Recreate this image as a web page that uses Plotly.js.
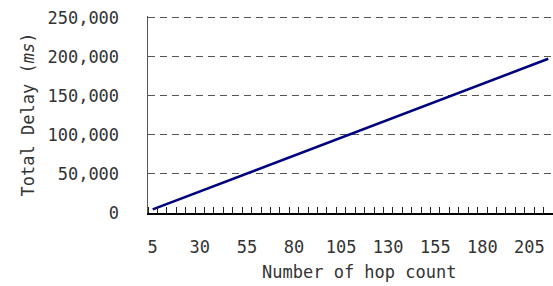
<!DOCTYPE html>
<html>
<head>
<meta charset="utf-8">
<script src="https://cdn.plot.ly/plotly-3.0.1.min.js"></script>
<style>html,body{margin:0;padding:0;background:#fff;}#chart{width:553px;height:286px;}</style>
</head>
<body>
<div id="chart"></div>
<script>
const hops = [5,10,15,20,25,30,35,40,45,50,55,60,65,70,75,80,85,90,95,100,105,110,115,120,125,130,135,140,145,150,155,160,165,170,175,180,185,190,195,200,205,210,215];
const delays = [4600,9200,13800,18400,22950,27550,32150,36700,41300,45900,50500,55100,59650,64250,68850,73450,78000,82600,87200,91800,96400,100950,105550,110150,114750,119300,123900,128500,133100,137700,142300,146850,151450,156050,160650,165200,169800,174400,179000,183600,188200,192800,197350];
const xTickLabels = [5,30,55,80,105,130,155,180,205];
const yTicks = [0,50000,100000,150000,200000,250000];

const half = (hops[1]-hops[0])/2;
const boundaries = hops.map(h => h - half).concat([hops[hops.length-1] + half]);
const font = {family: '"DejaVu Sans Mono", "Liberation Mono", monospace', size: 17, color: '#333'};

Plotly.newPlot('chart', [{
  x: hops, y: delays, type: 'scatter', mode: 'lines',
  line: {color: '#00007f', width: 2.6}, hoverinfo: 'none'
}], {
  width: 553, height: 286,
  margin: {l: 148, r: 0, t: 16, b: 73, pad: 0},
  paper_bgcolor: '#fff', plot_bgcolor: '#fff',
  font: font,
  showlegend: false,
  xaxis: {
    range: [boundaries[0], boundaries[boundaries.length-1]],
    tickmode: 'array', tickvals: xTickLabels, ticktext: xTickLabels.map(String),
    ticks: '', showgrid: false, zeroline: false,
    showline: true, linecolor: '#000', linewidth: 1.5,
    ticklabelstandoff: 18,
    tickfont: font,
    minor: {tickmode: 'array', tickvals: boundaries, ticks: 'inside', ticklen: 6, tickwidth: 1, tickcolor: '#222', showgrid: false}
  },
  yaxis: {
    range: [0, 252000],
    tickmode: 'array', tickvals: yTicks, tickformat: ',',
    ticks: '', zeroline: false,
    showgrid: true, gridcolor: '#555', gridwidth: 1, griddash: '7px,5px',
    showline: true, linecolor: '#555', linewidth: 1.5,
    ticklabelstandoff: 24,
    tickfont: font,
    title: {text: 'Total Delay (<i>ms</i>)', font: font, standoff: 8}
  },
  annotations: [{
    text: 'Number of hop count', font: font, showarrow: false,
    xref: 'paper', yref: 'paper', x: 0.52, y: -0.30, xanchor: 'center', yanchor: 'middle'
  }]
}, {staticPlot: true, displayModeBar: false});
</script>
</body>
</html>
